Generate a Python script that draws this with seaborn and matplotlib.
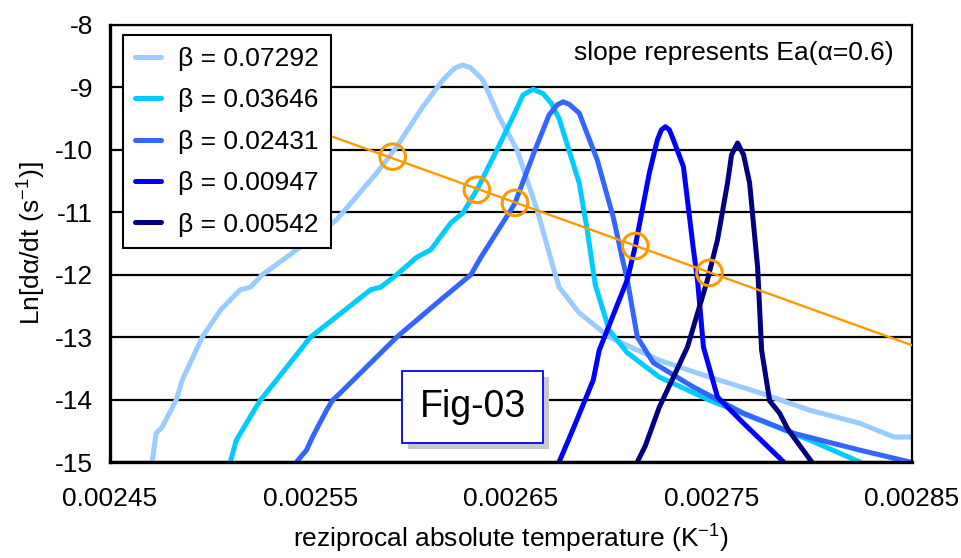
import numpy as np
import pandas as pd
import seaborn as sns
import matplotlib.pyplot as plt
from matplotlib.patches import Rectangle

# valores
betas = ["0.07292", "0.03646", "0.02431", "0.00947", "0.00542"]
cores = ["#99CCFF", "#00CCFF", "#3366FF", "#0000FF", "#000080"]

x1 = [0.002471, 0.002473, 0.002476, 0.002483, 0.002486, 0.002496, 0.002505, 0.002515,
      0.002520, 0.002526, 0.002541, 0.002563, 0.002583, 0.002593, 0.002606, 0.002616,
      0.002622, 0.002626, 0.002630, 0.002636, 0.002644, 0.002653, 0.002663, 0.002671,
      0.002674, 0.002684, 0.002699, 0.002724, 0.002749, 0.002774, 0.002799, 0.002824,
      0.002841, 0.002850]
y1 = [-15.0, -14.54, -14.44, -14.01, -13.69, -13.00, -12.57, -12.24,
      -12.20, -12.00, -11.65, -11.12, -10.37, -9.95, -9.31, -8.88,
      -8.69, -8.64, -8.69, -8.88, -9.47, -10.00, -10.96, -11.88,
      -12.20, -12.61, -13.00, -13.37, -13.64, -13.89, -14.17, -14.38,
      -14.60, -14.60]

x2 = [0.002510, 0.002513, 0.002521, 0.002525, 0.002528, 0.002533, 0.002550, 0.002580,
      0.002585, 0.002593, 0.002603, 0.002610, 0.002620, 0.002626, 0.002633, 0.002643,
      0.002651, 0.002656, 0.002661, 0.002666, 0.002670, 0.002674, 0.002684, 0.002688,
      0.002692, 0.002699, 0.002708, 0.002724, 0.002749, 0.002774, 0.002799, 0.002824]
y2 = [-15.0, -14.65, -14.22, -14.01, -13.89, -13.69, -13.00, -12.24,
      -12.20, -12.00, -11.72, -11.60, -11.17, -11.01, -10.64, -10.00,
      -9.47, -9.12, -9.03, -9.10, -9.25, -9.50, -10.53, -11.28,
      -12.16, -12.89, -13.25, -13.64, -14.01, -14.33, -14.65, -15.0]

x3 = [0.002543, 0.002548, 0.002551, 0.002558, 0.002561, 0.002565, 0.002593, 0.002615,
      0.002630, 0.002635, 0.002650, 0.002652, 0.002662, 0.002669, 0.002673, 0.002676,
      0.002679, 0.002684, 0.002693, 0.002701, 0.002706, 0.002708, 0.002713, 0.002721,
      0.002741, 0.002766, 0.002791, 0.002824, 0.002849]
y3 = [-15.0, -14.81, -14.60, -14.17, -14.01, -13.89, -13.00, -12.40,
      -12.00, -11.72, -10.96, -10.85, -10.00, -9.44, -9.28, -9.23,
      -9.27, -9.41, -10.16, -11.08, -11.81, -12.08, -13.00, -13.41,
      -13.80, -14.22, -14.54, -14.81, -15.0]

x4 = [0.002674, 0.002681, 0.002691, 0.002694, 0.002708, 0.002712, 0.002719, 0.002723,
      0.002725, 0.002727, 0.002729, 0.002731, 0.002736, 0.002741, 0.002743, 0.002746,
      0.002753, 0.002766, 0.002786]
y4 = [-15.0, -14.47, -13.69, -13.21, -12.08, -11.54, -10.37, -9.84,
      -9.68, -9.63, -9.68, -9.84, -10.27, -11.60, -12.08, -13.16,
      -13.96, -14.38, -15.0]

x5 = [0.002713, 0.002717, 0.002724, 0.002738, 0.002748, 0.002753, 0.002758, 0.002760,
      0.002763, 0.002766, 0.002769, 0.002773, 0.002775, 0.002779, 0.002784, 0.002788,
      0.002800]
y5 = [-15.0, -14.74, -14.12, -13.16, -12.08, -11.44, -10.53, -10.08,
      -9.89, -10.08, -10.53, -11.88, -13.21, -14.02, -14.22, -14.47,
      -15.0]

# pontos alfa = 0.6 e reta de ajuste
cx = [0.002591, 0.002633, 0.002652, 0.002712, 0.002749]
cy = [-10.11, -10.64, -10.85, -11.54, -11.97]
lx = [0.002561, 0.00285]
ly = [-9.79, -13.13]

xticks = [0.00245, 0.00255, 0.00265, 0.00275, 0.00285]
xlabels = ["0.00245", "0.00255", "0.00265", "0.00275", "0.00285"]
yticks = [-15, -14, -13, -12, -11, -10, -9, -8]

sns.set_style("white")
plt.rcParams["font.family"] = ["Liberation Sans", "DejaVu Sans"]
plt.rcParams["axes.unicode_minus"] = False
plt.rcParams["mathtext.fontset"] = "custom"
plt.rcParams["mathtext.rm"] = "Liberation Sans"
plt.rcParams["text.color"] = "black"
plt.rcParams["axes.labelcolor"] = "black"
plt.rcParams["xtick.color"] = "black"
plt.rcParams["ytick.color"] = "black"

fs = 19

fig = plt.figure(figsize=(9.62, 5.58), dpi=100)
ax = fig.add_axes([110 / 962, 1 - 462 / 558, 802 / 962, 437 / 558])

for y in yticks:
    ax.axhline(y, color="black", lw=1.6, zorder=1)

series = [(x1, y1), (x2, y2), (x3, y3), (x4, y4), (x5, y5)]
for (xs, ys), b, c in zip(series, betas, cores):
    sns.lineplot(x=xs, y=ys, color=c, lw=3.6, sort=False, estimator=None,
                 label="β = " + b, ax=ax, zorder=2,
                 solid_joinstyle="round", solid_capstyle="round")

sns.lineplot(x=lx, y=ly, color="#FF9900", lw=1.7, sort=False, estimator=None,
             ax=ax, zorder=3)
sns.scatterplot(x=cx, y=cy, marker="o", s=340, facecolor="none",
                edgecolor="#FF9900", linewidth=2.2, ax=ax, zorder=4)

ax.set_xlim(0.00245, 0.00285)
ax.set_ylim(-15, -8)
ax.set_xticks(xticks, xlabels)
ax.set_yticks(yticks, [str(v) for v in yticks])
ax.tick_params(axis="y", direction="inout", length=12, width=2, labelsize=fs, pad=6,
               colors="black")
ax.tick_params(axis="x", direction="out", length=9, width=2, labelsize=fs, pad=9,
               colors="black")
for s in ax.spines.values():
    s.set_color("black")
    s.set_linewidth(1.6)
ax.spines["left"].set_linewidth(2.4)
ax.spines["bottom"].set_linewidth(2.4)

ax.set_xlabel(r"reziprocal absolute temperature (K$^{\mathregular{-1}}$)", fontsize=fs,
              labelpad=7, color="black")
ax.set_ylabel(r"Ln[dα/dt (s$^{\mathregular{-1}}$)]", fontsize=fs, labelpad=6,
              color="black")

leg = ax.legend(loc="upper left", bbox_to_anchor=(0.016, 0.977), borderaxespad=0,
                fontsize=fs, frameon=True, fancybox=False, edgecolor="black",
                framealpha=1, handlelength=1.0, handletextpad=0.65,
                labelspacing=0.66, borderpad=0.45, labelcolor="black")
leg.get_frame().set_linewidth(1.5)
leg.set_zorder(6)

ax.text(0.977, 0.935, "slope represents Ea(α=0.6)", transform=ax.transAxes,
        ha="right", va="center", fontsize=fs, color="black", zorder=5)

# caixa "Fig-03" com sombra
ax.add_patch(Rectangle((0.371, 0.030), 0.176, 0.164, transform=ax.transAxes,
                       facecolor="#C8C8C8", edgecolor="none", zorder=6))
ax.add_patch(Rectangle((0.364, 0.0435), 0.176, 0.164, transform=ax.transAxes,
                       facecolor="white", edgecolor="#0000FF", lw=1.3, zorder=7))
ax.text(0.452, 0.125, "Fig-03", transform=ax.transAxes, ha="center", va="center",
        fontsize=27, color="black", zorder=8)

fig.savefig("out.png", dpi=100)
